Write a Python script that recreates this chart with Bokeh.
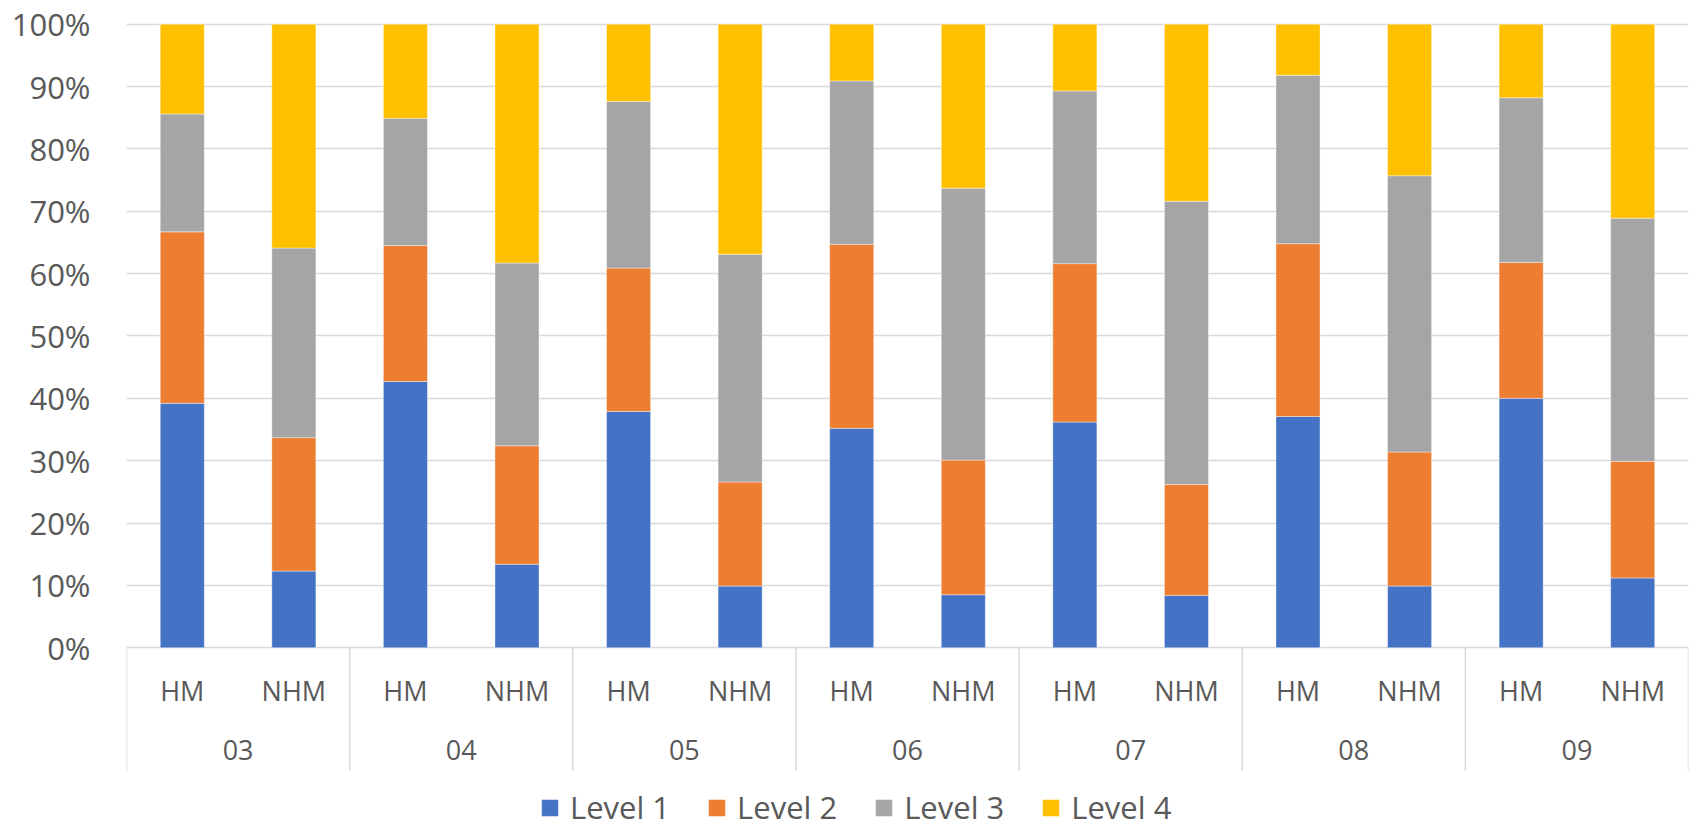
from bokeh.plotting import figure
from bokeh.models import (Range1d, FixedTicker, ColumnDataSource, Legend,
                          LegendItem, CustomJSTickFormatter)
from bokeh.core.properties import value
from bokeh.embed import file_html
from bokeh.resources import INLINE

# Grade bands and the two subgroups shown under each grade
groups = ["03", "04", "05", "06", "07", "08", "09"]
subgroups = ["HM", "NHM"]
levels = ["Level 1", "Level 2", "Level 3", "Level 4"]

# Share of students (%) at each level, in order 03 HM, 03 NHM, 04 HM, ...
level1 = [39.2, 12.3, 42.7, 13.4, 37.9, 9.9, 35.2, 8.5, 36.2, 8.4, 37.1, 9.9, 40.0, 11.2]
level2 = [27.5, 21.4, 21.8, 19.0, 23.0, 16.7, 29.5, 21.6, 25.4, 17.8, 27.7, 21.5, 21.8, 18.7]
level3 = [18.9, 30.4, 20.4, 29.3, 26.7, 36.5, 26.2, 43.6, 27.7, 45.4, 27.0, 44.3, 26.4, 39.0]
level4 = [14.4, 35.9, 15.1, 38.3, 12.4, 36.9, 9.1, 26.3, 10.7, 28.4, 8.2, 24.3, 11.8, 31.1]

y_ticks = [0, 10, 20, 30, 40, 50, 60, 70, 80, 90, 100]
colors = ["#4472C4", "#ED7D31", "#A5A5A5", "#FFC000"]

TEXT = "#595959"
GRID = "#D9D9D9"
FONT = "Open Sans"

cats = [(g, s) for g in groups for s in subgroups]
n = len(cats)
source = ColumnDataSource(data={
    "x": [i + 0.5 for i in range(n)],
    "sub": [s for _, s in cats],
    "Level 1": level1,
    "Level 2": level2,
    "Level 3": level3,
    "Level 4": level4,
})

p = figure(width=1694, height=828,
           x_range=Range1d(0, n), y_range=Range1d(-28.98, 103.8),
           x_axis_location=None, output_backend="svg", toolbar_location=None,
           min_border_left=126, min_border_right=6,
           min_border_top=0, min_border_bottom=0)
p.outline_line_color = None
p.background_fill_color = "white"
p.border_fill_color = "white"

# y axis: percent labels only, no axis line or ticks
p.yaxis.ticker = FixedTicker(ticks=y_ticks)
p.yaxis.formatter = CustomJSTickFormatter(code="return tick + '%';")
p.yaxis.axis_line_color = None
p.yaxis.major_tick_line_color = None
p.yaxis.minor_tick_line_color = None
p.yaxis.major_tick_out = 0
p.yaxis.major_label_standoff = 36
p.yaxis.major_label_text_font = FONT
p.yaxis.major_label_text_font_size = "31px"
p.yaxis.major_label_text_color = TEXT

p.xgrid.visible = False
p.ygrid.ticker = FixedTicker(ticks=y_ticks)
p.ygrid.grid_line_color = GRID
p.ygrid.grid_line_width = 1.5

# stacked bars
renderers = p.vbar_stack(levels, x="x", width=0.395, color=colors, source=source,
                         line_color="white", line_width=0.8, line_alpha=0.5)

# two-level category axis drawn beneath the bars
bounds = [len(subgroups) * j for j in range(len(groups) + 1)]
p.segment(x0=bounds, y0=[0] * len(bounds), x1=bounds, y1=[-19.7] * len(bounds),
          line_color=GRID, line_width=1.5)

p.text(x="x", y=-6.8, text="sub", source=source, text_align="center",
       text_baseline="middle", text_font=value(FONT), text_font_size="27px",
       text_color=TEXT)

group_x = [len(subgroups) * j + len(subgroups) / 2 for j in range(len(groups))]
p.text(x=group_x, y=[-16.47] * len(groups), text=groups, text_align="center",
       text_baseline="middle", text_font=value(FONT), text_font_size="27px",
       text_color=TEXT)

legend = Legend(items=[LegendItem(label=lv, renderers=[r]) for lv, r in zip(levels, renderers)],
                orientation="horizontal", location=(413, 0),
                glyph_width=21, glyph_height=21, label_standoff=10, spacing=36,
                padding=0, margin=0, border_line_color=None, background_fill_alpha=0,
                label_text_font=FONT, label_text_font_size="31px",
                label_text_color=TEXT)
p.add_layout(legend)

open("out.html", "w").write(file_html(p, INLINE))
